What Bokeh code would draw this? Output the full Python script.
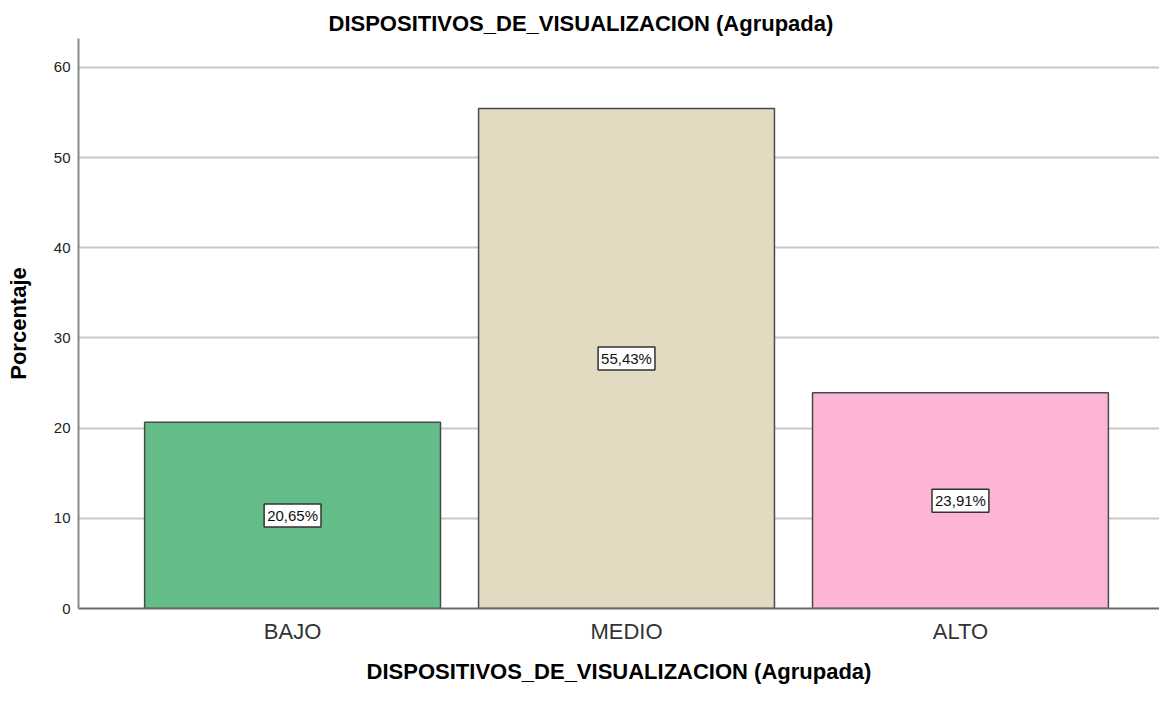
from bokeh.plotting import figure
from bokeh.models import ColumnDataSource, FixedTicker, Range1d, Label, Title
from bokeh.embed import file_html
from bokeh.resources import INLINE

categories = ["BAJO", "MEDIO", "ALTO"]
percentages = [20.65, 55.43, 23.91]
label_texts = ["20,65%", "55,43%", "23,91%"]
colors = ["#64bd88", "#e2dbc2", "#fdb5d6"]
y_ticks = [0, 10, 20, 30, 40, 50, 60]

xpos = list(range(1, len(categories) + 1))
src = ColumnDataSource(dict(x=xpos, top=percentages, color=colors))

FONT = "Liberation Sans"

p = figure(width=1159, height=686, output_backend="svg", toolbar_location=None,
           x_range=Range1d(0.359, 3.596), y_range=Range1d(0, 63.2),
           min_border_left=78, min_border_right=0, min_border_top=38, min_border_bottom=70)
p.outline_line_color = None

t = Title(text="DISPOSITIVOS_DE_VISUALIZACION (Agrupada)", align="left",
          text_font=FONT, text_font_size="22px", text_font_style="bold",
          text_color="#000000", offset=250, standoff=6)
p.add_layout(t, "above")

p.vbar(x="x", top="top", width=0.886, bottom=0, source=src, fill_color="color",
       line_color="#4a4a4a", line_width=1.5)

for x, v, s in zip(xpos, percentages, label_texts):
    p.add_layout(Label(x=x, y=v / 2, text=s, text_align="center", text_baseline="middle",
                       text_font=FONT, text_font_size="15px", text_color="#111111",
                       background_fill_color="white", border_line_color="#333333",
                       border_line_width=1.5, padding=3))

# axes
p.yaxis.ticker = FixedTicker(ticks=y_ticks)
p.yaxis.minor_tick_line_color = None
p.yaxis.major_tick_in = 0
p.yaxis.major_tick_out = 0
p.yaxis.axis_line_color = "#8a8a8a"
p.yaxis.axis_line_width = 2
p.yaxis.major_label_text_font = FONT
p.yaxis.major_label_text_font_size = "15px"
p.yaxis.major_label_text_color = "#222222"
p.yaxis.major_label_standoff = 8
p.yaxis.axis_label = "Porcentaje"
p.yaxis.axis_label_text_font = FONT
p.yaxis.axis_label_text_font_size = "22px"
p.yaxis.axis_label_text_font_style = "bold"
p.yaxis.axis_label_text_color = "#000000"
p.yaxis.axis_label_standoff = 20

p.xaxis.ticker = FixedTicker(ticks=xpos)
p.xaxis.major_label_overrides = {x: c for x, c in zip(xpos, categories)}
p.xaxis.minor_tick_line_color = None
p.xaxis.major_tick_in = 0
p.xaxis.major_tick_out = 0
p.xaxis.axis_line_color = "#6a6a6a"
p.xaxis.axis_line_width = 2
p.xaxis.major_label_text_font = FONT
p.xaxis.major_label_text_font_size = "22px"
p.xaxis.major_label_text_color = "#333333"
p.xaxis.major_label_standoff = 10
p.xaxis.axis_label = "DISPOSITIVOS_DE_VISUALIZACION (Agrupada)"
p.xaxis.axis_label_text_font = FONT
p.xaxis.axis_label_text_font_size = "22px"
p.xaxis.axis_label_text_font_style = "bold"
p.xaxis.axis_label_text_color = "#000000"
p.xaxis.axis_label_standoff = 12

p.xgrid.grid_line_color = None
p.ygrid.grid_line_color = "#c8c8c8"
p.ygrid.grid_line_width = 2
p.ygrid.ticker = FixedTicker(ticks=y_ticks)

open("out.html", "w").write(file_html(p, INLINE))
